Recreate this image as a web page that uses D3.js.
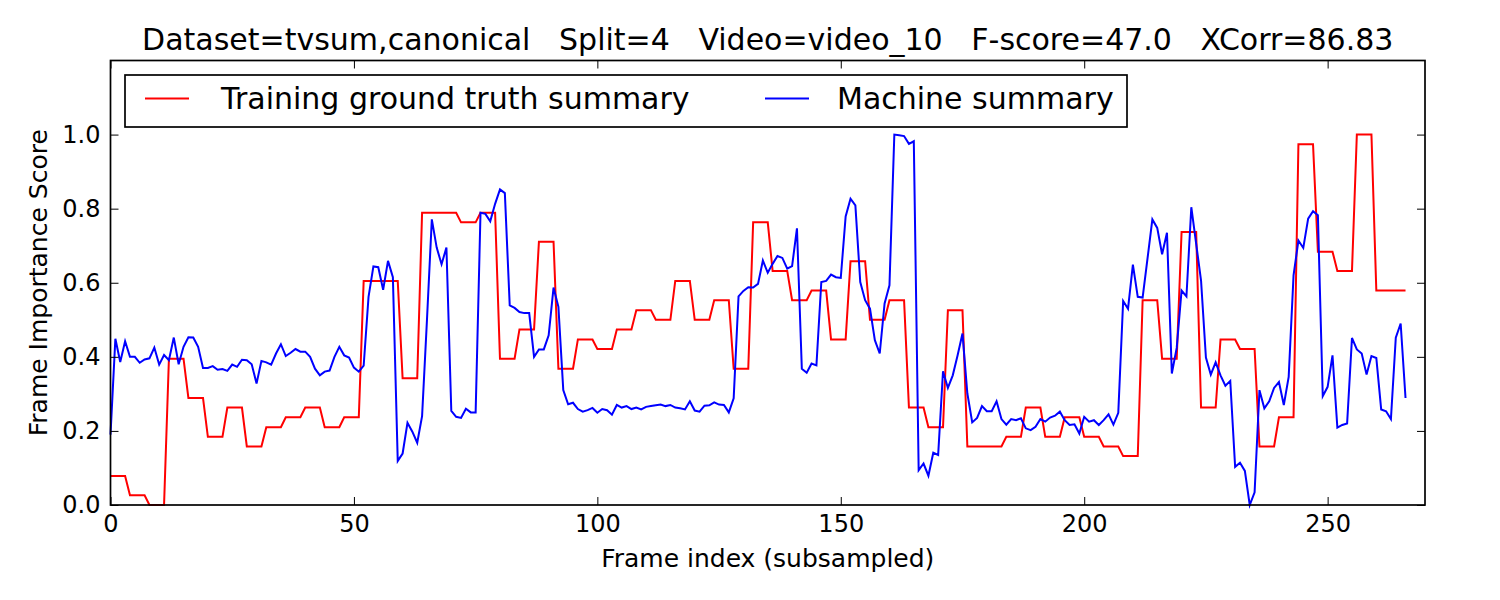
<!DOCTYPE html>
<html><head><meta charset="utf-8">
<script src="https://cdn.jsdelivr.net/npm/d3@7"></script>
<style>body{margin:0;background:#fff} svg text{font-family:"DejaVu Sans",sans-serif;fill:#000}</style>
</head><body><svg id="c" width="1500" height="600"></svg>
<script>
// Training ground truth summary (per subsampled frame)
const groundTruth = [
0.078,0.078,0.078,0.078, 0.026,0.026,0.026,0.026, 0,0,0,0, 0.395,0.395,0.395,0.395,
0.289,0.289,0.289,0.289, 0.184,0.184,0.184,0.184, 0.263,0.263,0.263,0.263, 0.158,0.158,0.158,0.158,
0.21,0.21,0.21,0.21, 0.237,0.237,0.237,0.237, 0.263,0.263,0.263,0.263, 0.21,0.21,0.21,0.21,
0.237,0.237,0.237,0.237, 0.605,0.605,0.605,0.605, 0.605,0.605,0.605,0.605, 0.342,0.342,0.342,0.342,
0.789,0.789,0.789,0.789, 0.789,0.789,0.789,0.789, 0.763,0.763,0.763,0.763, 0.789,0.789,0.789,0.789,
0.395,0.395,0.395,0.395, 0.474,0.474,0.474,0.474, 0.711,0.711,0.711,0.711, 0.368,0.368,0.368,0.368,
0.447,0.447,0.447,0.447, 0.421,0.421,0.421,0.421, 0.474,0.474,0.474,0.474, 0.526,0.526,0.526,0.526,
0.5,0.5,0.5,0.5, 0.605,0.605,0.605,0.605, 0.5,0.5,0.5,0.5, 0.553,0.553,0.553,0.553,
0.368,0.368,0.368,0.368, 0.763,0.763,0.763,0.763, 0.632,0.632,0.632,0.632, 0.553,0.553,0.553,0.553,
0.579,0.579,0.579,0.579, 0.447,0.447,0.447,0.447, 0.658,0.658,0.658,0.658, 0.5,0.5,0.5,0.5,
0.553,0.553,0.553,0.553, 0.263,0.263,0.263,0.263, 0.21,0.21,0.21,0.21, 0.526,0.526,0.526,0.526,
0.158,0.158,0.158,0.158, 0.158,0.158,0.158,0.158, 0.184,0.184,0.184,0.184, 0.263,0.263,0.263,0.263,
0.184,0.184,0.184,0.184, 0.237,0.237,0.237,0.237, 0.184,0.184,0.184,0.184, 0.158,0.158,0.158,0.158,
0.132,0.132,0.132,0.132, 0.553,0.553,0.553,0.553, 0.395,0.395,0.395,0.395, 0.737,0.737,0.737,0.737,
0.263,0.263,0.263,0.263, 0.447,0.447,0.447,0.447, 0.421,0.421,0.421,0.421, 0.158,0.158,0.158,0.158,
0.237,0.237,0.237,0.237, 0.974,0.974,0.974,0.974, 0.684,0.684,0.684,0.684, 0.632,0.632,0.632,0.632,
1.0,1.0,1.0,1.0, 0.579,0.579,0.579,0.579, 0.579,0.579,0.579
];
// Machine summary (per subsampled frame)
const machine = [
0.19,0.449,0.386,0.442,0.40,0.40,0.384,0.393,0.396,0.425,
0.379,0.405,0.391,0.452,0.38,0.427,0.453,0.452,0.427,0.37,
0.37,0.375,0.365,0.367,0.362,0.379,0.373,0.392,0.391,0.38,
0.328,0.389,0.385,0.379,0.409,0.434,0.402,0.411,0.421,0.414,
0.414,0.40,0.368,0.35,0.36,0.363,0.40,0.427,0.404,0.398,
0.371,0.36,0.376,0.562,0.644,0.642,0.581,0.659,0.615,0.119,
0.139,0.222,0.198,0.168,0.24,0.499,0.771,0.695,0.65,0.695,
0.254,0.238,0.235,0.26,0.25,0.25,0.789,0.786,0.766,0.813,
0.852,0.842,0.539,0.532,0.521,0.518,0.518,0.40,0.42,0.42,
0.458,0.587,0.535,0.31,0.272,0.276,0.259,0.252,0.256,0.262,
0.249,0.259,0.256,0.244,0.27,0.263,0.267,0.259,0.263,0.258,
0.265,0.267,0.269,0.271,0.267,0.27,0.263,0.261,0.258,0.28,
0.255,0.252,0.268,0.269,0.277,0.271,0.27,0.25,0.288,0.563,
0.578,0.588,0.587,0.597,0.66,0.627,0.651,0.672,0.667,0.638,
0.645,0.747,0.368,0.357,0.382,0.377,0.602,0.605,0.622,0.615,
0.613,0.779,0.827,0.809,0.602,0.553,0.53,0.445,0.409,0.544,
0.593,1.0,0.998,0.996,0.975,0.982,0.094,0.112,0.079,0.141,
0.135,0.361,0.316,0.35,0.404,0.463,0.301,0.223,0.235,0.267,
0.253,0.253,0.28,0.232,0.217,0.232,0.229,0.234,0.207,0.202,
0.211,0.232,0.225,0.236,0.241,0.252,0.229,0.216,0.218,0.193,
0.238,0.225,0.229,0.216,0.229,0.245,0.217,0.249,0.551,0.53,
0.649,0.562,0.56,0.665,0.771,0.748,0.677,0.735,0.355,0.424,
0.579,0.563,0.804,0.705,0.606,0.398,0.352,0.385,0.35,0.322,
0.335,0.103,0.114,0.092,0.0,0.034,0.31,0.261,0.28,0.316,
0.332,0.27,0.346,0.62,0.714,0.694,0.773,0.793,0.782,0.294,
0.319,0.404,0.209,0.216,0.22,0.451,0.42,0.409,0.352,0.402,
0.397,0.258,0.253,0.232,0.452,0.49,0.289
];
const seriesNames = ["Training ground truth summary", "Machine summary"];
const seriesColors = ["#ff0000", "#0000ff"];
const xTicks = [0, 50, 100, 150, 200, 250];
const yTicks = [0.0, 0.2, 0.4, 0.6, 0.8, 1.0];
const titleText = "Dataset=tvsum,canonical   Split=4   Video=video_10   F-score=47.0   XCorr=86.83";
const xLabel = "Frame index (subsampled)";
const yLabel = "Frame Importance Score";

const W = 1500, H = 600;
const m = {left: 110.5, right: 75, top: 60.5, bottom: 95};
const svg = d3.select("#c");
svg.append("rect").attr("width", W).attr("height", H).attr("fill", "#fff");

const x = d3.scaleLinear().domain([0, 270]).range([m.left, W - m.right]);
const y = d3.scaleLinear().domain([0, 1.2]).range([H - m.bottom, m.top]);

const line = d3.line().x((d, i) => x(i)).y(d => y(d));
[groundTruth, machine].forEach((s, k) => {
  svg.append("path").datum(s).attr("d", line).attr("fill", "none")
    .attr("stroke", seriesColors[k]).attr("stroke-width", 2).attr("stroke-linejoin", "miter");
});

function styleAxis(g) {
  g.select(".domain").remove();
  g.selectAll(".tick line").attr("stroke", "#000").attr("stroke-width", 1);
  g.selectAll(".tick text").attr("font-size", 24).attr("font-family", "DejaVu Sans");
}
const fmt = d3.format(".1f");
svg.append("g").attr("transform", `translate(0,${H - m.bottom})`)
  .call(d3.axisBottom(x).tickValues(xTicks).tickSize(-8).tickPadding(10)).call(styleAxis);
svg.append("g").attr("transform", `translate(0,${m.top})`)
  .call(d3.axisTop(x).tickValues(xTicks).tickSize(-8).tickFormat("")).call(styleAxis);
svg.append("g").attr("transform", `translate(${m.left},0)`)
  .call(d3.axisLeft(y).tickValues(yTicks).tickSize(-8).tickPadding(10).tickFormat(fmt)).call(styleAxis);
svg.append("g").attr("transform", `translate(${W - m.right},0)`)
  .call(d3.axisRight(y).tickValues(yTicks).tickSize(-8).tickFormat("")).call(styleAxis);

svg.append("rect").attr("x", m.left).attr("y", m.top)
  .attr("width", W - m.right - m.left).attr("height", H - m.bottom - m.top)
  .attr("fill", "none").attr("stroke", "#000").attr("stroke-width", 1.7);

// title
svg.append("text").attr("x", (m.left + W - m.right) / 2).attr("y", 50)
  .attr("text-anchor", "middle").attr("font-size", 30).style("white-space", "pre").text(titleText);
// axis labels
svg.append("text").attr("x", (m.left + W - m.right) / 2).attr("y", 567)
  .attr("text-anchor", "middle").attr("font-size", 25).text(xLabel);
svg.append("text").attr("transform", `translate(47,${(m.top + H - m.bottom) / 2}) rotate(-90)`)
  .attr("text-anchor", "middle").attr("font-size", 25).text(yLabel);

// legend
const lg = svg.append("g");
lg.append("rect").attr("x", 125).attr("y", 75).attr("width", 1002).attr("height", 52)
  .attr("fill", "#fff").attr("stroke", "#000").attr("stroke-width", 1.7);
const legLineX = [145, 765];
const legTextX = [221, 837];
seriesNames.forEach((n, k) => {
  lg.append("line").attr("x1", legLineX[k]).attr("x2", legLineX[k] + 44).attr("y1", 98.5).attr("y2", 98.5)
    .attr("stroke", seriesColors[k]).attr("stroke-width", 2);
  lg.append("text").attr("x", legTextX[k]).attr("y", 109).attr("font-size", 30).text(n);
});
</script></body></html>
